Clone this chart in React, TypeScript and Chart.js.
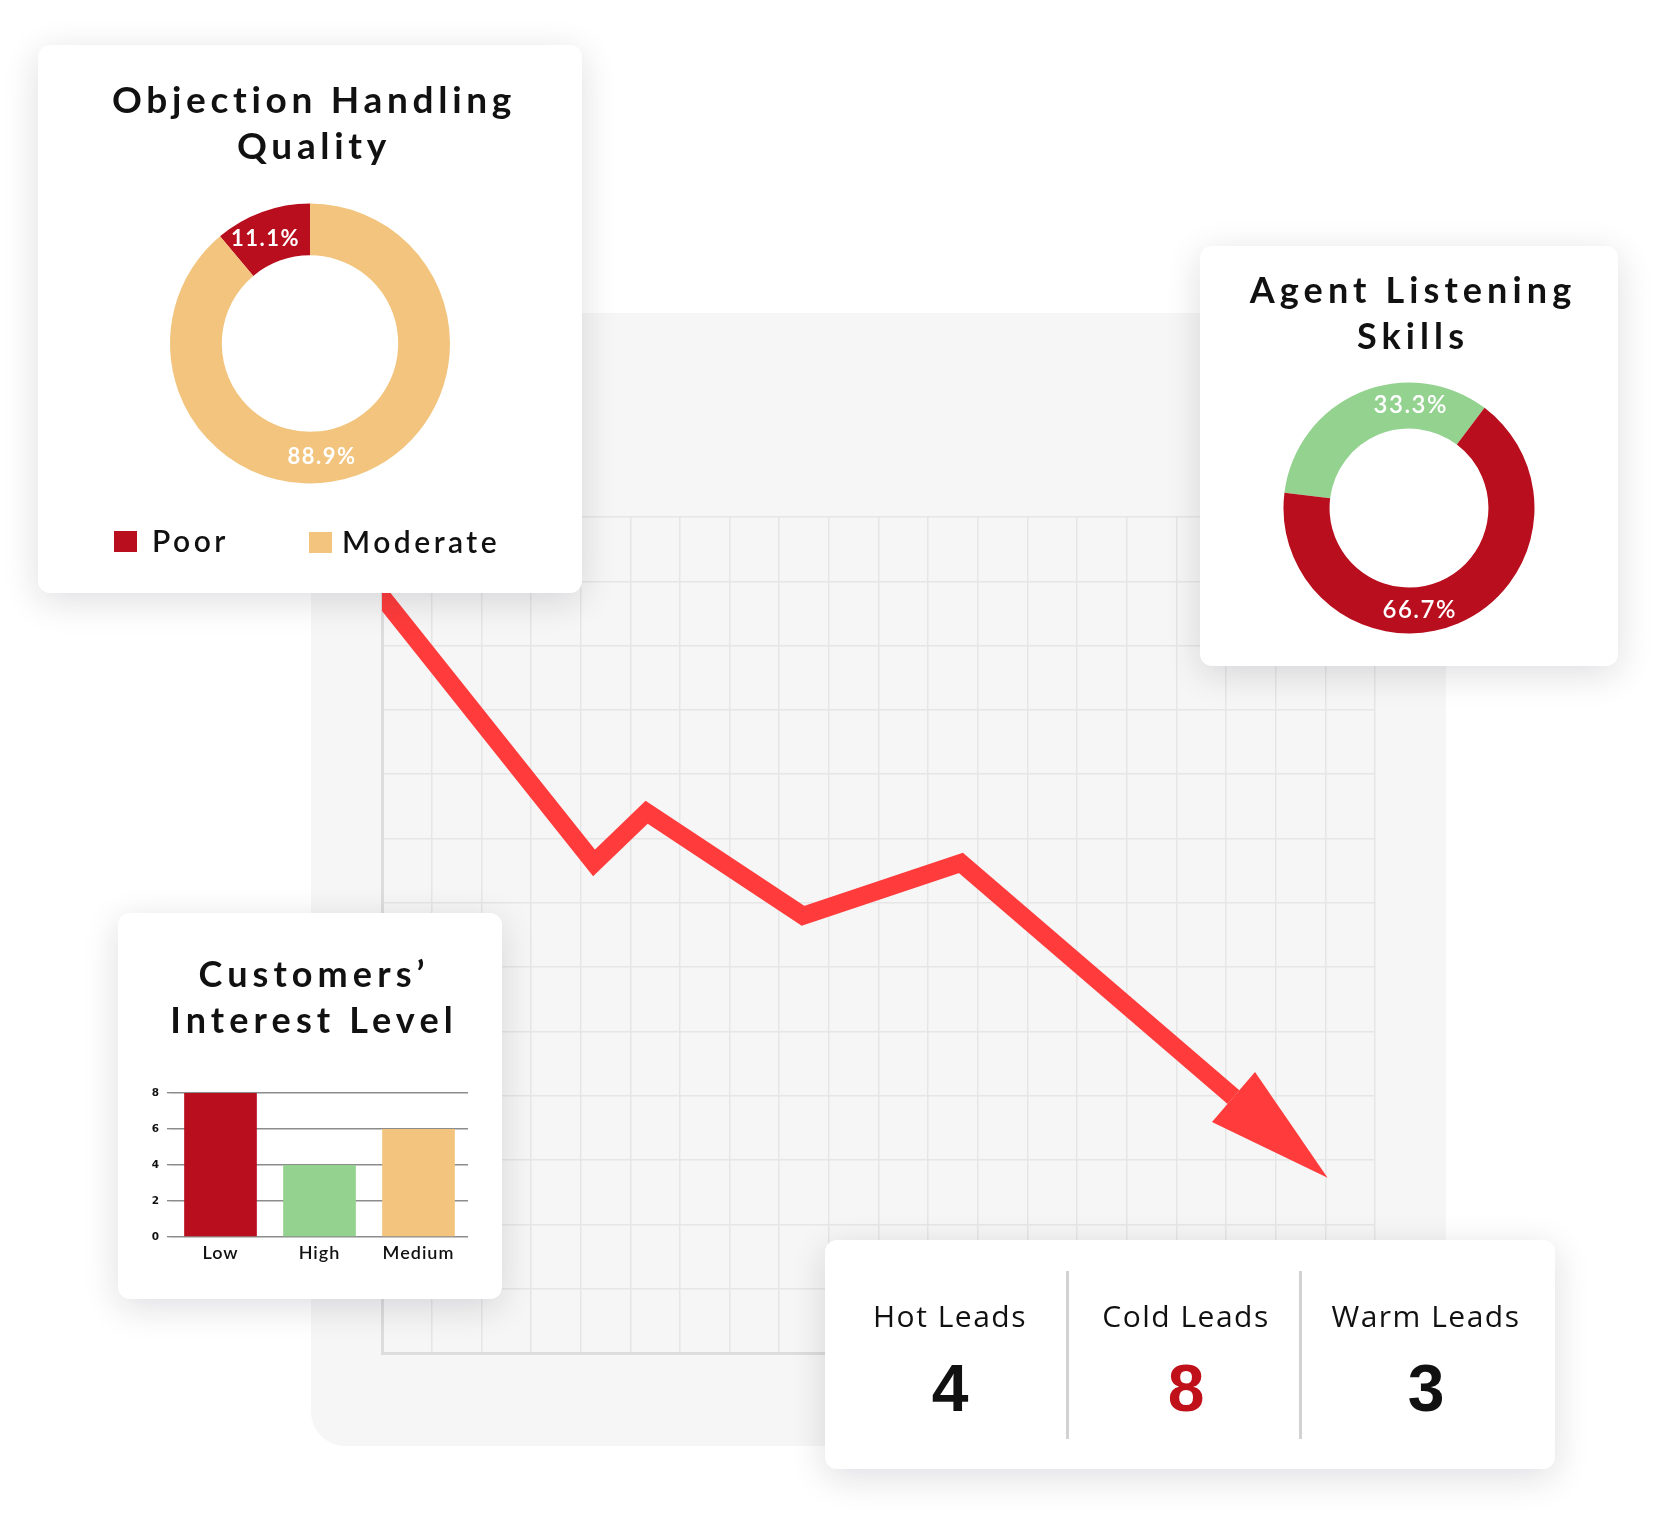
import { useEffect, useRef } from "react";
import { Chart, registerables } from "chart.js";

Chart.register(...registerables);

// main trend line (grid units: 20 columns x 13 rows)
const trendX = [-0.4, 4.27, 5.33, 8.48, 11.66, 17.15];
const trendY = [12.15, 7.62, 8.41, 6.8, 7.62, 3.98];

const objectionLabels = ["Poor", "Moderate"];
const objectionValues = [1, 8];

const listeningLabels = ["Good", "Poor"];
const listeningValues = [1, 2];

const interestLabels = ["Low", "High", "Medium"];
const interestValues = [8, 4, 6];
const interestTicks = [0, 2, 4, 6, 8];

const leadLabels = ["Hot Leads", "Cold Leads", "Warm Leads"];
const leadValues = [4, 8, 3];

const RED = "#b90e1d";
const SAND = "#f2c47e";
const GREEN = "#94d290";
const ARROW = "#ff3b3b";
const INK = "#111111";

// canvas letter spacing (Chart.js has no option for it)
const spacingPlugin = {
  id: "spacing",
  beforeLayout(chart: any, _args: any, opts: any) {
    chart.ctx.letterSpacing = opts.value || "0px";
  },
  beforeDraw(chart: any, _args: any, opts: any) {
    chart.ctx.letterSpacing = opts.value || "0px";
  }
};

const sliceLabels = {
  id: "sliceLabels",
  afterDatasetsDraw(chart: any, _args: any, opts: any) {
    const meta = chart.getDatasetMeta(0);
    const values = chart.data.datasets[0].data as number[];
    const total = values.reduce((a, b) => a + b, 0);
    const { ctx } = chart;
    ctx.save();
    ctx.font = opts.font;
    ctx.fillStyle = opts.color;
    ctx.letterSpacing = opts.spacing || "0px";
    ctx.textAlign = "center";
    ctx.textBaseline = "middle";
    meta.data.forEach((arc: any, i: number) => {
      const p = arc.getProps(["x", "y", "startAngle", "endAngle", "innerRadius", "outerRadius"], true);
      const a = (p.startAngle + p.endAngle) / 2 + ((opts.turn?.[i] ?? 0) * Math.PI) / 180;
      const r = (p.innerRadius + p.outerRadius) / 2;
      ctx.fillText(`${((values[i] / total) * 100).toFixed(1)}%`, p.x + Math.cos(a) * r, p.y + Math.sin(a) * r);
    });
    ctx.restore();
  }
};

const arrowHead = {
  id: "arrowHead",
  afterDatasetsDraw(chart: any, _args: any, opts: any) {
    const pts = chart.getDatasetMeta(0).data;
    const a = pts[pts.length - 2];
    const b = pts[pts.length - 1];
    const ang = Math.atan2(b.y - a.y, b.x - a.x);
    const cos = Math.cos(ang);
    const sin = Math.sin(ang);
    const { ctx } = chart;
    ctx.save();
    ctx.fillStyle = opts.color;
    ctx.beginPath();
    ctx.moveTo(b.x + cos * opts.length, b.y + sin * opts.length);
    ctx.lineTo(b.x - sin * opts.half, b.y + cos * opts.half);
    ctx.lineTo(b.x + sin * opts.half, b.y - cos * opts.half);
    ctx.closePath();
    ctx.fill();
    ctx.restore();
  }
};

const trendConfig = (): any => ({
  type: "line",
  data: {
    datasets: [
      {
        data: trendX.map((x, i) => ({ x, y: trendY[i] })),
        borderColor: ARROW,
        borderWidth: 18,
        pointRadius: 0,
        borderJoinStyle: "miter",
        borderCapStyle: "butt",
        tension: 0,
        fill: false,
        clip: 0
      }
    ]
  },
  options: {
    animation: false,
    responsive: true,
    maintainAspectRatio: false,
    layout: { padding: { left: 71, top: 204, right: 71, bottom: 93 } },
    plugins: {
      legend: { display: false },
      tooltip: { enabled: false },
      arrowHead: { color: ARROW, length: 124, half: 33 }
    },
    scales: {
      x: {
        type: "linear",
        min: 0,
        max: 20,
        ticks: { display: false, stepSize: 1 },
        grid: { color: "#e6e6e6", lineWidth: 1.5, drawTicks: false },
        border: { color: "#dddddd", width: 3 }
      },
      y: {
        type: "linear",
        min: 0,
        max: 13,
        ticks: { display: false, stepSize: 1 },
        grid: { color: "#e6e6e6", lineWidth: 1.5, drawTicks: false },
        border: { color: "#dddddd", width: 3 }
      }
    }
  },
  plugins: [arrowHead]
});

const objectionConfig = (): any => ({
  type: "doughnut",
  data: {
    labels: objectionLabels,
    datasets: [{ data: objectionValues, backgroundColor: [RED, SAND], borderWidth: 0, hoverOffset: 0 }]
  },
  options: {
    animation: false,
    responsive: true,
    maintainAspectRatio: false,
    rotation: -40,
    radius: 140,
    cutout: "63%",
    layout: { padding: { top: 49 } },
    plugins: {
      legend: { display: false },
      tooltip: { enabled: false },
      sliceLabels: { font: "700 22px Lato", color: "#ffffff", spacing: "1.5px", turn: [-3, 14] }
    }
  },
  plugins: [sliceLabels]
});

const listeningConfig = (): any => ({
  type: "doughnut",
  data: {
    labels: listeningLabels,
    datasets: [{ data: listeningValues, backgroundColor: [GREEN, RED], borderWidth: 0, hoverOffset: 0 }]
  },
  options: {
    animation: false,
    responsive: true,
    maintainAspectRatio: false,
    rotation: -83,
    radius: 125.5,
    cutout: "63.3%",
    layout: { padding: { top: 104 } },
    plugins: {
      legend: { display: false },
      tooltip: { enabled: false },
      sliceLabels: { font: "600 24px Lato", color: "#ffffff", spacing: "1.5px", turn: [24, 17] }
    }
  },
  plugins: [sliceLabels]
});

const interestConfig = (): any => ({
  type: "bar",
  data: {
    labels: interestLabels,
    datasets: [
      {
        data: interestValues,
        backgroundColor: [RED, GREEN, SAND],
        barPercentage: 0.734,
        categoryPercentage: 1
      }
    ]
  },
  options: {
    animation: false,
    responsive: true,
    maintainAspectRatio: false,
    layout: { padding: { left: 0, top: 180, right: 34, bottom: 32 } },
    plugins: {
      spacing: { value: "1px" },
      legend: { display: false },
      tooltip: { enabled: false }
    },
    scales: {
      x: {
        grid: { display: false },
        border: { display: false },
        ticks: { color: INK, padding: -3, font: { family: "Lato", size: 18, weight: "600" } },
        afterFit: (scale: any) => {
          scale.height = 30;
        }
      },
      y: {
        min: 0,
        max: 8,
        afterBuildTicks: (scale: any) => {
          scale.ticks = interestTicks.map((value) => ({ value }));
        },
        grid: { color: "#8c8c8c", lineWidth: 1.4, drawTicks: true, tickLength: 4 },
        border: { display: false },
        ticks: { color: INK, padding: 7, font: { family: "DejaVu Sans", size: 10.5, weight: "bold" } },
        afterFit: (scale: any) => {
          scale.width = 53;
        }
      }
    }
  },
  plugins: [spacingPlugin]
});

function ChartCanvas({ config, box }: { config: () => any; box: React.CSSProperties }) {
  const canvasRef = useRef<HTMLCanvasElement | null>(null);

  useEffect(() => {
    const canvas = canvasRef.current;
    if (!canvas) return;
    const chart = new Chart(canvas, config());
    return () => chart.destroy();
  }, [config]);

  return (
    <div style={{ position: "absolute", ...box }}>
      <canvas ref={canvasRef} />
    </div>
  );
}

function Card({ left, top, width, height, children }: { left: number; top: number; width: number; height: number; children: React.ReactNode }) {
  return (
    <div
      style={{
        position: "absolute",
        left,
        top,
        width,
        height,
        background: "#ffffff",
        borderRadius: 12,
        boxShadow: "0 8px 36px rgba(20, 20, 40, 0.14)"
      }}
    >
      {children}
    </div>
  );
}

function Title({ lines, top, size, spacing }: { lines: string[]; top: number; size: number; spacing: number }) {
  return (
    <div
      style={{
        position: "absolute",
        left: 8,
        right: 0,
        top,
        textAlign: "center",
        fontFamily: "Lato, sans-serif",
        fontWeight: 700,
        fontSize: size,
        lineHeight: "46px",
        letterSpacing: spacing,
        color: INK
      }}
    >
      {lines.map((line) => (
        <div key={line}>{line}</div>
      ))}
    </div>
  );
}

// HTML legend for the objection doughnut
const objectionColors = [RED, SAND];
const legendBoxX = [76, 271];
const legendTextX = [114, 304];
const legendTop = [486, 487];

const leadCenters = [125, 361, 601];
const leadDividers = [242, 475];

export default function App() {
  return (
    <div style={{ position: "absolute", left: 0, top: 0, width: 1665, height: 1538, background: "#ffffff", overflow: "hidden" }}>
      <div style={{ position: "absolute", left: 311, top: 313, width: 1135, height: 1133, background: "#f6f6f6", borderRadius: 34 }}>
        <ChartCanvas config={trendConfig} box={{ left: 0, top: 0, width: 1135, height: 1133 }} />
      </div>

      <Card left={38} top={45} width={544} height={548}>
        <Title lines={["Objection Handling", "Quality"]} top={31} size={37} spacing={4.7} />
        <ChartCanvas config={objectionConfig} box={{ left: 0, top: 0, width: 544, height: 548 }} />
        {objectionLabels.map((label, i) => (
          <div key={label}>
            <div
              style={{
                position: "absolute",
                left: legendBoxX[i],
                top: legendTop[i],
                width: 23,
                height: 21,
                background: objectionColors[i]
              }}
            />
            <div
              style={{
                position: "absolute",
                left: legendTextX[i],
                top: legendTop[i] - 6,
                fontFamily: "Lato, sans-serif",
                fontWeight: 600,
                fontSize: 30,
                lineHeight: "30px",
                letterSpacing: 3.5,
                color: INK,
                whiteSpace: "nowrap"
              }}
            >
              {label}
            </div>
          </div>
        ))}
      </Card>

      <Card left={1200} top={246} width={418} height={420}>
        <Title lines={["Agent Listening", "Skills"]} top={20} size={36} spacing={5.1} />
        <ChartCanvas config={listeningConfig} box={{ left: 0, top: 0, width: 418, height: 420 }} />
      </Card>

      <Card left={118} top={913} width={384} height={386}>
        <Title lines={["Customers\u2019", "Interest Level"]} top={37} size={36} spacing={5.1} />
        <ChartCanvas config={interestConfig} box={{ left: 0, top: 0, width: 384, height: 386 }} />
      </Card>

      <Card left={825} top={1240} width={730} height={229}>
        {leadDividers.map((x) => (
          <div key={x} style={{ position: "absolute", left: x - 1, top: 31, width: 2.5, height: 168, background: "#d2d2d2" }} />
        ))}
        {leadLabels.map((label, i) => (
          <div key={label}>
            <div
              style={{
                position: "absolute",
                left: leadCenters[i] - 120,
                width: 240,
                top: 61,
                textAlign: "center",
                fontFamily: "'Open Sans', sans-serif",
                fontSize: 30,
                lineHeight: "30px",
                letterSpacing: 1.5,
                color: INK
              }}
            >
              {label}
            </div>
            <div
              style={{
                position: "absolute",
                left: leadCenters[i] - 60,
                width: 120,
                top: 115,
                textAlign: "center",
                fontFamily: "'Liberation Sans', Arial, sans-serif",
                fontWeight: 700,
                fontSize: 66,
                lineHeight: "66px",
                color: i === 1 ? "#c0111b" : INK
              }}
            >
              {leadValues[i]}
            </div>
          </div>
        ))}
      </Card>
    </div>
  );
}
